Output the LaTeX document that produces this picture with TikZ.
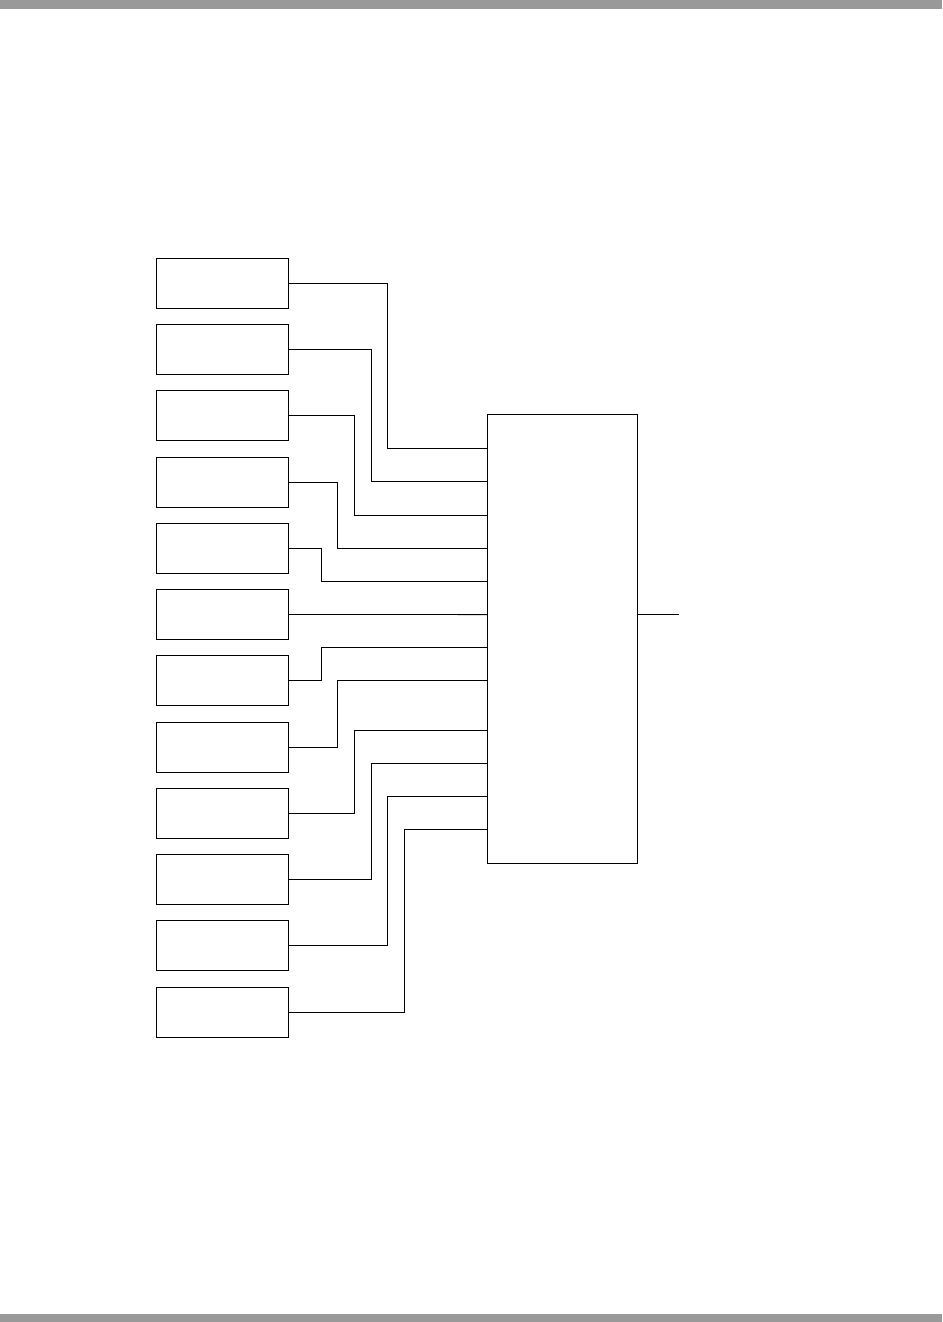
\documentclass[tikz,border=0pt]{standalone}
\usetikzlibrary{calc}
\definecolor{bargray}{HTML}{999999}
\begin{document}
\begin{tikzpicture}[x=1pt,y=-1pt,
  line width=0.8pt,
  srcbox/.style={draw=black, rectangle, inner sep=0pt, minimum width=132pt, minimum height=50pt},
  mainbox/.style={draw=black, rectangle, inner sep=0pt, minimum width=150pt, minimum height=449pt},
  wire/.style={draw=black, line width=0.8pt}]
\useasboundingbox (0,0) rectangle (942,1322);
\fill[bargray] (0,0) rectangle (942,9);
\fill[bargray] (0,1314) rectangle (942,1322);
% source boxes
\foreach \i in {1,...,12} {
  \node[srcbox] (b\i) at (222.3, {283.3+(\i-1)*66.25}) {};
}
% main box
\node[mainbox] (big) at (562.3, 638.8) {};
% input points on the main box
\foreach \i/\y in {1/448.3, 2/481.3, 3/515.0, 4/548.3, 5/581.3, 6/614.6, 7/647.5, 8/680.5, 9/730.0, 10/763.3, 11/796.3, 12/829.3} {
  \coordinate (in\i) at (big.west |- 0,\y);
}
\coordinate (out) at (679, 614.6);
% connectors
\foreach \i/\x in {1/387.3, 2/371.3, 3/354.3, 4/337.7, 5/321.3, 7/321.3, 8/337.7, 9/354.3, 10/371.3, 11/387.3, 12/404.3} {
  \draw[wire] (b\i.east) -| (\x, 0 |- in\i) -- (in\i);
}
\draw[wire] (b6.east) -- (in6);
\draw[wire] (out -| big.east) -- (out);
\end{tikzpicture}
\end{document}
